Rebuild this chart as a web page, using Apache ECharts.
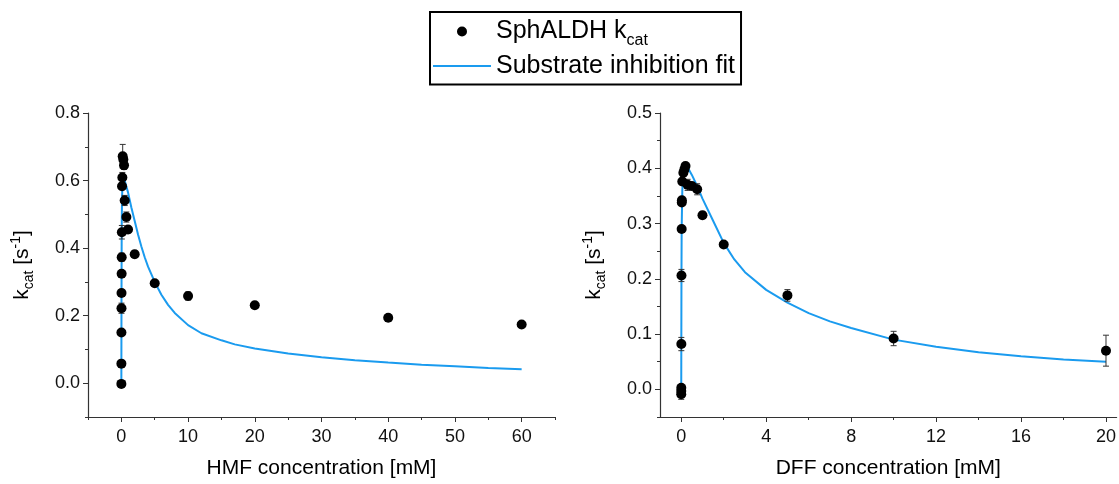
<!DOCTYPE html>
<html><head><meta charset="utf-8">
<script src="https://cdn.jsdelivr.net/npm/echarts@6/dist/echarts.min.js"></script>
<style>html,body{margin:0;padding:0;background:#fff}#c{width:1119px;height:484px}</style>
</head><body><div id="c"></div><script>
// ---- data: HMF (left panel) ----
const hmfX   = [0, 0.005, 0.01, 0.02, 0.025, 0.04, 0.05, 0.075, 0.1, 0.15, 0.2, 0.3, 0.4, 0.5, 0.75, 1, 2, 5, 10, 20, 40, 60];
const hmfY   = [-0.002, 0.058, 0.150, 0.222, 0.267, 0.324, 0.373, 0.447, 0.583, 0.609, 0.672, 0.662, 0.645, 0.541, 0.492, 0.455, 0.382, 0.296, 0.258, 0.231, 0.194, 0.174];
const hmfErr = [0.005, 0.006, 0.008, 0.015, 0.010, 0.010, 0.012, 0.020, 0.010, 0.015, 0.035, 0.012, 0.012, 0.015, 0.015, 0.010, 0.010, 0.006, 0.012, 0.006, 0.008, 0.005];
const hmfFitX = [0, 0.02, 0.05, 0.1, 0.2, 0.3, 0.5, 1, 1.5, 2, 2.5, 3, 3.5, 4, 5, 6, 7, 8, 10, 12, 15, 17, 20, 25, 30, 35, 40, 45, 50, 55, 60];
const hmfFitY = [0, 0.25, 0.45, 0.55, 0.60, 0.61, 0.60, 0.565, 0.52, 0.48, 0.44, 0.405, 0.373, 0.345, 0.30, 0.262, 0.232, 0.208, 0.172, 0.148, 0.127, 0.115, 0.103, 0.088, 0.077, 0.068, 0.061, 0.055, 0.050, 0.045, 0.041];
// ---- data: DFF (right panel) ----
const dffX   = [0, 0.001, 0.002, 0.005, 0.01, 0.02, 0.025, 0.03, 0.05, 0.1, 0.15, 0.2, 0.3, 0.5, 0.75, 1, 2, 5, 10, 20];
const dffY   = [-0.009, -0.003, 0.003, 0.082, 0.206, 0.290, 0.338, 0.342, 0.376, 0.392, 0.398, 0.404, 0.370, 0.368, 0.362, 0.315, 0.262, 0.170, 0.092, 0.070];
const dffErr = [0.009, 0.004, 0.004, 0.012, 0.011, 0.005, 0.004, 0.005, 0.006, 0.005, 0.004, 0.004, 0.010, 0.006, 0.010, 0.006, 0.004, 0.0105, 0.013, 0.028];
const dffFitX = [0, 0.01, 0.02, 0.05, 0.1, 0.2, 0.3, 0.5, 0.75, 1, 1.5, 2, 2.5, 3, 4, 5, 6, 7, 8, 10, 12, 14, 16, 18, 20];
const dffFitY = [0, 0.2, 0.29, 0.36, 0.39, 0.404, 0.402, 0.388, 0.368, 0.345, 0.305, 0.265, 0.235, 0.212, 0.18, 0.157, 0.138, 0.123, 0.111, 0.09, 0.077, 0.067, 0.06, 0.054, 0.05];
// ---- tick values ----
const hmfMajorX = [0, 10, 20, 30, 40, 50, 60];
const hmfMinorX = [-5, 5, 15, 25, 35, 45, 55, 65];
const hmfMajorY = [0, 0.2, 0.4, 0.6, 0.8];
const hmfMinorY = [-0.1, 0.1, 0.3, 0.5, 0.7];
const dffMajorX = [0, 4, 8, 12, 16, 20];
const dffMinorX = [2, 6, 10, 14, 18];
const dffMajorY = [0, 0.1, 0.2, 0.3, 0.4, 0.5];
const dffMinorY = [-0.05, 0.05, 0.15, 0.25, 0.35, 0.45];
const seriesNames = ['SphALDH kcat', 'Substrate inhibition fit'];
const xTitles = ['HMF concentration [mM]', 'DFF concentration [mM]'];

const FONT = 'Liberation Sans, Arial, sans-serif';
const AX = '#333';
const BLUE = '#1a9bef';

const zip = (a, b, c) => a.map((v, i) => c ? [v, b[i], c[i]] : [v, b[i]]);

const yName = '{a|k}{s|cat}{a| [s}{p|-1}{a|]}';
const yRich = {
  a: {fontSize: 21, fontFamily: FONT, color: '#000'},
  s: {fontSize: 14, fontFamily: FONT, color: '#000', padding: [14, 0, 0, 0]},
  p: {fontSize: 14, fontFamily: FONT, color: '#000', padding: [0, 0, 12, 0]}
};

function mainX(gi, min, max, major, title) {
  return {
    type: 'value', gridIndex: gi, min: min, max: max, position: 'bottom',
    name: title, nameLocation: 'middle', nameGap: 41,
    nameTextStyle: {fontSize: 21, fontFamily: FONT, color: '#000'},
    axisLine: {show: true, onZero: false, lineStyle: {color: AX, width: 1.2}},
    axisTick: {show: true, inside: false, length: 5, customValues: major, lineStyle: {color: AX}},
    axisLabel: {show: true, customValues: major, margin: 11, fontSize: 18, fontFamily: FONT, color: '#111'},
    splitLine: {show: false}
  };
}
function minorX(gi, min, max, minor) {
  return {
    type: 'value', gridIndex: gi, min: min, max: max, position: 'bottom',
    axisLine: {show: false, onZero: false},
    axisTick: {show: true, length: 3, customValues: minor, lineStyle: {color: AX}},
    axisLabel: {show: false}, splitLine: {show: false}
  };
}
function mainY(gi, min, max, major) {
  return {
    type: 'value', gridIndex: gi, min: min, max: max, position: 'left',
    name: yName, nameLocation: 'middle', nameGap: 52, nameRotate: 90,
    nameTextStyle: {fontSize: 21, fontFamily: FONT, color: '#000', rich: yRich},
    axisLine: {show: true, onZero: false, lineStyle: {color: AX, width: 1.2}},
    axisTick: {show: true, inside: false, length: 5, customValues: major, lineStyle: {color: AX}},
    axisLabel: {show: true, customValues: major, margin: 8, fontSize: 18, fontFamily: FONT, color: '#111',
      formatter: v => Number(v).toFixed(1)},
    splitLine: {show: false}
  };
}
function minorY(gi, min, max, minor) {
  return {
    type: 'value', gridIndex: gi, min: min, max: max, position: 'left',
    axisLine: {show: false, onZero: false},
    axisTick: {show: true, length: 3, customValues: minor, lineStyle: {color: AX}},
    axisLabel: {show: false}, splitLine: {show: false}
  };
}

function errRender(params, api) {
  const x = api.value(0), y = api.value(1), e = api.value(2);
  if (!e) return null;
  const hi = api.coord([x, y + e]), lo = api.coord([x, y - e]);
  const w = 3;
  const st = {stroke: '#333', lineWidth: 1};
  return {type: 'group', children: [
    {type: 'line', shape: {x1: hi[0], y1: hi[1], x2: lo[0], y2: lo[1]}, style: st},
    {type: 'line', shape: {x1: hi[0] - w, y1: hi[1], x2: hi[0] + w, y2: hi[1]}, style: st},
    {type: 'line', shape: {x1: lo[0] - w, y1: lo[1], x2: lo[0] + w, y2: lo[1]}, style: st}
  ]};
}

function panelSeries(xi, yi, fx, fy, px, py, pe) {
  return [
    {type: 'line', name: seriesNames[1], xAxisIndex: xi, yAxisIndex: yi, data: zip(fx, fy),
     symbol: 'none', showSymbol: false, lineStyle: {color: BLUE, width: 2}, itemStyle: {color: BLUE}, z: 2, animation: false},
    {type: 'custom', xAxisIndex: xi, yAxisIndex: yi, data: zip(px, py, pe),
     encode: {x: 0, y: 1}, renderItem: errRender, z: 3, animation: false},
    {type: 'scatter', name: seriesNames[0], xAxisIndex: xi, yAxisIndex: yi, data: zip(px, py),
     symbol: 'circle', symbolSize: 10, itemStyle: {color: '#000', opacity: 1}, z: 4, animation: false}
  ];
}

const chart = echarts.init(document.getElementById('c'), null, {renderer: 'canvas'});
chart.setOption({
  backgroundColor: '#fff',
  animation: false,
  legend: {
    left: 430, top: 12, orient: 'vertical', selectedMode: false,
    itemWidth: 58, itemHeight: 10, itemGap: 5,
    padding: [7, 6, 6, 2],
    borderColor: '#000', borderWidth: 2,
    data: [{name: seriesNames[0], icon: 'circle'}, {name: seriesNames[1], itemStyle: {opacity: 0}}],
    formatter: n => n === seriesNames[0] ? '{a|SphALDH k}{s|cat}' : '{a|' + n + '}',
    textStyle: {
      fontSize: 25, fontFamily: FONT, color: '#000',
      rich: {
        a: {fontSize: 25, fontFamily: FONT, color: '#000'},
        s: {fontSize: 16, fontFamily: FONT, color: '#000', padding: [18, 0, 0, 0]}
      }
    }
  },
  grid: [
    {left: 88, top: 113, width: 467, height: 308},
    {left: 660, top: 113, width: 459, height: 308}
  ],
  xAxis: [
    mainX(0, -5, 65, hmfMajorX, xTitles[0]),
    minorX(0, -5, 65, hmfMinorX),
    mainX(1, -1, 20.5, dffMajorX, xTitles[1]),
    minorX(1, -1, 20.5, dffMinorX)
  ],
  yAxis: [
    mainY(0, -0.1, 0.8, hmfMajorY),
    minorY(0, -0.1, 0.8, hmfMinorY),
    mainY(1, -0.05, 0.5, dffMajorY),
    minorY(1, -0.05, 0.5, dffMinorY)
  ],
  series: [].concat(
    panelSeries(0, 0, hmfFitX, hmfFitY, hmfX, hmfY, hmfErr),
    panelSeries(2, 2, dffFitX, dffFitY, dffX, dffY, dffErr)
  )
});
</script></body></html>
